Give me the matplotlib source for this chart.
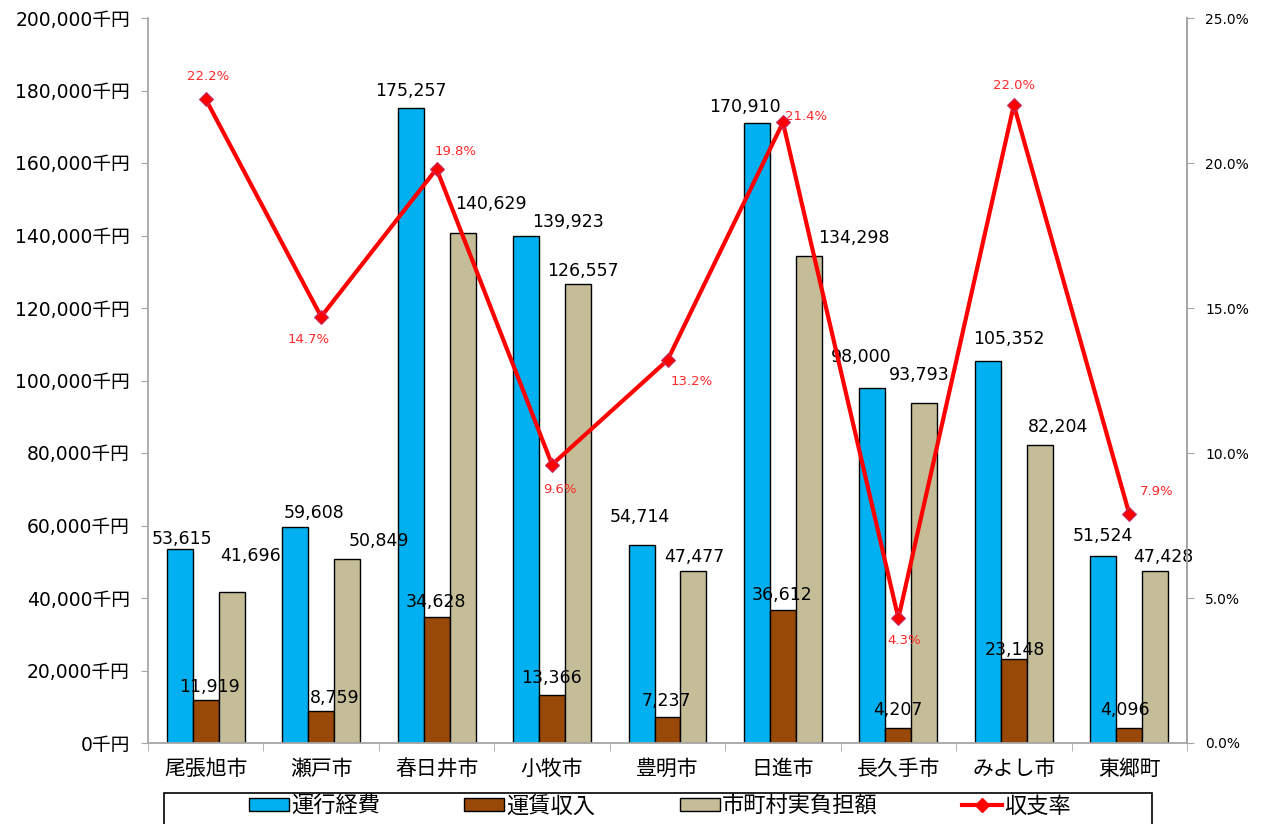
import numpy as np
import matplotlib
matplotlib.use("Agg")
import matplotlib.pyplot as plt
from matplotlib.patches import Patch, Rectangle
from matplotlib.lines import Line2D
from matplotlib.ticker import FuncFormatter, MultipleLocator

plt.rcParams['font.family'] = ['DejaVu Sans', 'Noto Sans CJK JP']

# data
cities = ["尾張旭市", "瀬戸市", "春日井市", "小牧市", "豊明市", "日進市", "長久手市", "みよし市", "東郷町"]
operating_cost = [53615, 59608, 175257, 139923, 54714, 170910, 98000, 105352, 51524]
fare_income = [11919, 8759, 34628, 13366, 7237, 36612, 4207, 23148, 4096]
city_burden = [41696, 50849, 140629, 126557, 47477, 134298, 93793, 82204, 47428]
recovery_rate = [22.2, 14.7, 19.8, 9.6, 13.2, 21.4, 4.3, 22.0, 7.9]
series_names = ["運行経費", "運賃収入", "市町村実負担額", "収支率"]

# label nudges in pixels (dx, dy upward), mimicking the original placement
cost_off = [(2, 10), (19, 14), (0, 17), (42, 14), (-2, 28), (-12, 16), (-11, 31), (21, 22), (0, 20)]
fare_off = [(4, 13), (14, 13), (-1, 15), (-1, 17), (-1, 16), (-1, 15), (-1, 18), (1, 9), (-4, 18)]
burden_off = [(19, 36), (32, 18), (28, 29), (5, 13), (1, 14), (45, 18), (-5, 28), (18, 18), (8, 14)]
rate_off = [(2, 23), (-13, -23), (19, 17), (8, -25), (24, -21), (23, 6), (6, -22), (0, 20), (27, 22)]

c_blue = "#00B0F0"
c_brown = "#984807"
c_tan = "#C4BD97"
c_axis = "#A6A6A6"
c_red = "#FF0000"

W, H = 1265, 824
fig = plt.figure(figsize=(W / 100, H / 100), dpi=100)
ax = fig.add_axes([148 / W, 1 - 743 / H, (1187 - 148) / W, (743 - 18) / H])
ax2 = ax.twinx()

x = np.arange(len(cities))
w = 0.225
b1 = ax.bar(x - w, operating_cost, w, color=c_blue, edgecolor="black", linewidth=1, zorder=2)
b2 = ax.bar(x, fare_income, w, color=c_brown, edgecolor="black", linewidth=1, zorder=2)
b3 = ax.bar(x + w, city_burden, w, color=c_tan, edgecolor="black", linewidth=1, zorder=2)

for bars, vals, offs in [(b1, operating_cost, cost_off), (b2, fare_income, fare_off), (b3, city_burden, burden_off)]:
    for rect, v, (dx, dy) in zip(bars, vals, offs):
        ax.annotate(f"{v:,}", (rect.get_x() + rect.get_width() / 2, v),
                    xytext=(dx, dy), textcoords="offset pixels",
                    ha="center", va="center", fontsize=12.5, color="black", zorder=5)

ax.set_xlim(-0.5, len(cities) - 0.5)
ax.set_ylim(0, 200000)
ax.yaxis.set_major_locator(MultipleLocator(20000))
ax.yaxis.set_major_formatter(FuncFormatter(lambda v, p: f"{int(v):,}千円"))
ax.tick_params(axis="y", labelsize=13.5, length=5, color=c_axis, pad=8)
ax.set_xticks(x)
ax.set_xticklabels(cities, fontsize=15, family=['Noto Sans CJK JP'])
ax.set_xticks(np.arange(-0.5, len(cities)), minor=True)
ax.tick_params(axis="x", which="major", length=0, pad=11)
ax.tick_params(axis="x", which="minor", length=6, color=c_axis)

ax.spines["top"].set_visible(False)
ax2.spines["top"].set_visible(False)
for s in ["left", "bottom", "right"]:
    ax.spines[s].set_color(c_axis)
    ax.spines[s].set_linewidth(1.3)
ax2.spines["right"].set_color(c_axis)
ax2.spines["right"].set_linewidth(1.3)
ax2.spines["left"].set_visible(False)
ax2.spines["bottom"].set_visible(False)

rate = np.array(recovery_rate) / 100
ax2.plot(x, rate, color=c_red, linewidth=3, marker="D", markersize=7,
         markerfacecolor=c_red, markeredgecolor="#C0306A", markeredgewidth=0.8, zorder=4)
ax2.set_ylim(0, 0.25)
ax2.yaxis.set_major_locator(MultipleLocator(0.05))
ax2.yaxis.set_major_formatter(FuncFormatter(lambda v, p: f"{v * 100:.1f}%"))
ax2.tick_params(axis="y", labelsize=10, length=5, color=c_axis, pad=8)
for xi, r, v, (dx, dy) in zip(x, rate, recovery_rate, rate_off):
    ax2.annotate(f"{v:.1f}%", (xi, r), xytext=(dx, dy), textcoords="offset pixels",
                 ha="center", va="center", fontsize=9.5, color="#FF2828")

# legend: entries centred, frame drawn separately (cut by the bottom edge)
handles = [Patch(facecolor=c_blue, edgecolor="black"),
           Patch(facecolor=c_brown, edgecolor="black"),
           Patch(facecolor=c_tan, edgecolor="black"),
           Line2D([], [], color=c_red, linewidth=3, marker="D", markersize=7)]
leg = fig.legend(handles, series_names, loc="center", ncol=4,
                 bbox_to_anchor=(660 / W, 1 - 806 / H), bbox_transform=fig.transFigure,
                 frameon=False, prop={"family": ["Noto Sans CJK JP"], "size": 16},
                 handlelength=1.8, handleheight=0.55, handletextpad=0.1,
                 columnspacing=3.8, borderpad=0, borderaxespad=0)
fig.patches.append(Rectangle((164 / W, -0.05), (1152 - 164) / W, 0.05 + 1 - 793 / H,
                             transform=fig.transFigure, fill=False, edgecolor="black",
                             linewidth=1.2, clip_on=False))

fig.savefig("out.png", dpi=100)
